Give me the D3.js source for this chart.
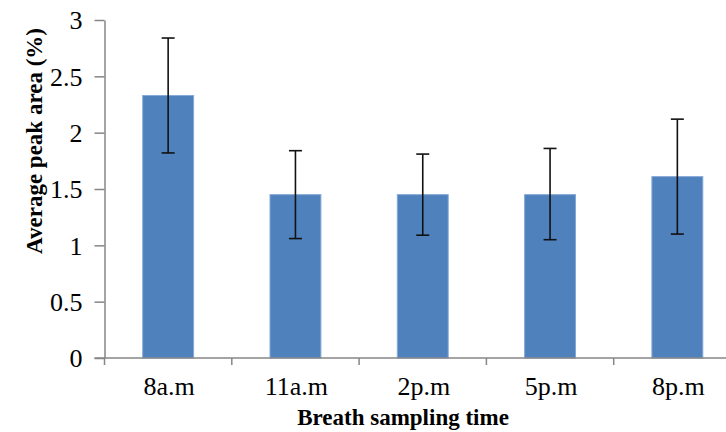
<!DOCTYPE html>
<html lang="en">
<head>
  <meta charset="UTF-8" />
  <title>Average peak area by breath sampling time</title>
  <style>
    body {
      margin: 0;
      background: #fff;
    }
    svg {
      display: block;
    }
    .axis path,
    .axis line {
      stroke: #868686;
      stroke-width: 1.5;
    }
    .axis text {
      font-family: 'Liberation Serif', 'Times New Roman', serif;
      font-size: 26px;
      fill: #000;
    }
    .axis-title {
      font-family: 'Liberation Serif', 'Times New Roman', serif;
      font-weight: bold;
      font-size: 23px;
      fill: #000;
    }
  </style>
</head>
<body>
  <svg id="chart" width="726" height="432"></svg>

  <script src="https://d3js.org/d3.v7.min.js"></script>
  <script>
    // Data
    const categories = ["8a.m", "11a.m", "2p.m", "5p.m", "8p.m"];
    const means = [2.33, 1.45, 1.45, 1.45, 1.61];
    const errLow = [1.82, 1.06, 1.09, 1.05, 1.10];
    const errHigh = [2.84, 1.84, 1.81, 1.86, 2.12];
    const yTicks = [0, 0.5, 1, 1.5, 2, 2.5, 3];

    const svg = d3.select("#chart");

    // Plot area (the category axis runs past the right edge, as in the source)
    const plot = { left: 104.5, top: 20, bottom: 358, right: 741 };

    const x = d3.scaleBand()
      .domain(categories)
      .range([plot.left, plot.right])
      .padding(0);

    const y = d3.scaleLinear()
      .domain([0, 3])
      .range([plot.bottom, plot.top]);

    const barW = x.bandwidth() * 0.4;

    // Bars
    svg.append("g")
      .selectAll("rect")
      .data(categories)
      .join("rect")
      .attr("x", d => x(d) + (x.bandwidth() - barW) / 2)
      .attr("y", (d, i) => y(means[i]))
      .attr("width", barW)
      .attr("height", (d, i) => y(0) - y(means[i]))
      .attr("fill", "#4f81bd")
      .attr("stroke", "#86a9d6")
      .attr("stroke-width", 1);

    // Y axis
    svg.append("g")
      .attr("class", "axis")
      .attr("transform", `translate(${plot.left},0)`)
      .call(d3.axisLeft(y).tickValues(yTicks).tickSize(10).tickSizeOuter(0).tickPadding(12)
        .tickFormat(d3.format("")))
      .call(g => g.selectAll("text").attr("dy", "0.34em"));

    // X axis: line, boundary ticks, centred labels
    const xAxis = svg.append("g").attr("class", "axis");
    xAxis.append("line")
      .attr("x1", plot.left - 10).attr("x2", plot.right)
      .attr("y1", plot.bottom).attr("y2", plot.bottom);
    xAxis.selectAll("line.tick")
      .data(categories)
      .join("line")
      .attr("class", "tick")
      .attr("x1", d => x(d)).attr("x2", d => x(d))
      .attr("y1", plot.bottom).attr("y2", plot.bottom + 7);
    xAxis.selectAll("text")
      .data(categories)
      .join("text")
      .attr("x", d => x(d) + x.bandwidth() / 2 + 1)
      .attr("y", 395)
      .attr("text-anchor", "middle")
      .text(d => d);

    // Error bars
    const cap = 6.5;
    const err = svg.append("g")
      .attr("stroke", "#111")
      .attr("stroke-width", 1.6);
    categories.forEach((c, i) => {
      const cx = x(c) + x.bandwidth() / 2;
      err.append("line")
        .attr("x1", cx).attr("x2", cx)
        .attr("y1", y(errLow[i])).attr("y2", y(errHigh[i]));
      err.append("line")
        .attr("x1", cx - cap).attr("x2", cx + cap)
        .attr("y1", y(errHigh[i])).attr("y2", y(errHigh[i]));
      err.append("line")
        .attr("x1", cx - cap).attr("x2", cx + cap)
        .attr("y1", y(errLow[i])).attr("y2", y(errLow[i]));
    });

    // Axis titles
    svg.append("text")
      .attr("class", "axis-title")
      .attr("transform", "translate(42,141) rotate(-90)")
      .attr("text-anchor", "middle")
      .text("Average peak area (%)");

    svg.append("text")
      .attr("class", "axis-title")
      .attr("x", 403)
      .attr("y", 425)
      .attr("text-anchor", "middle")
      .text("Breath sampling time");
  </script>
</body>
</html>
